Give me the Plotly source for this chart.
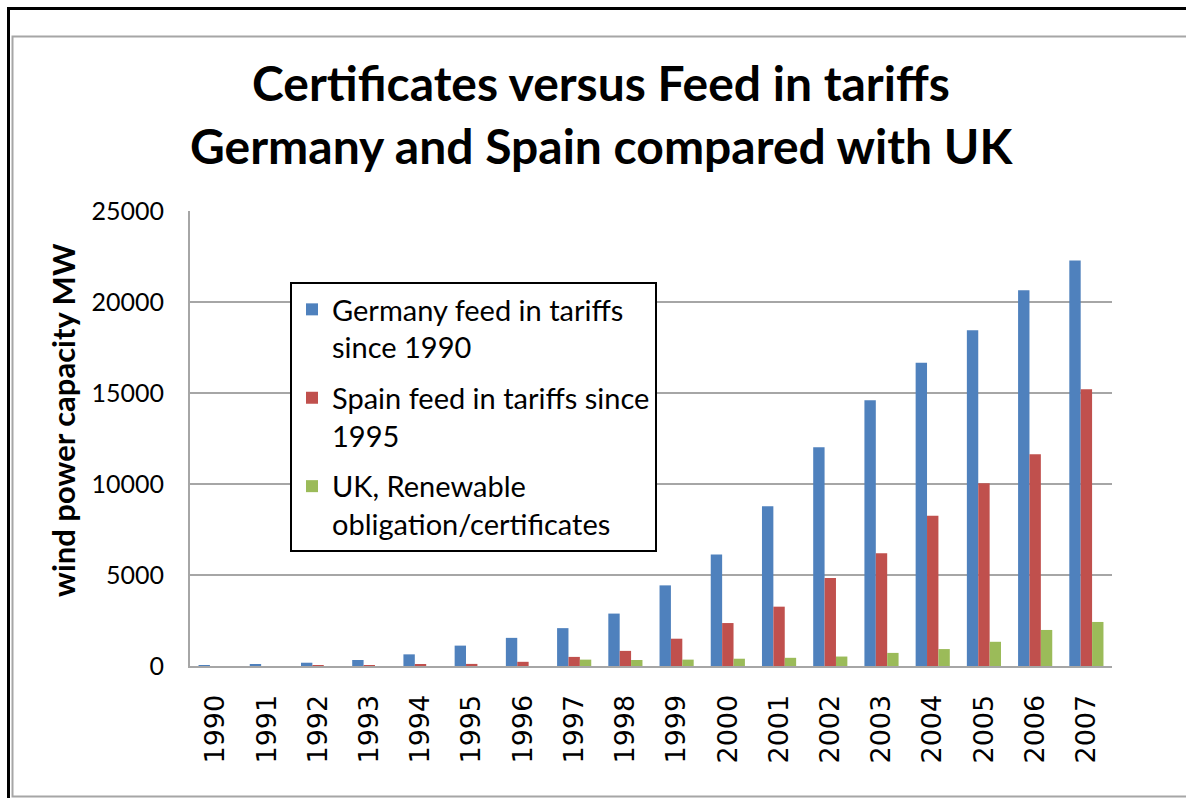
import plotly.graph_objects as go

years = [str(y) for y in range(1990, 2008)]
germany = [55, 106, 180, 330, 640, 1120, 1546, 2080, 2880, 4430, 6130, 8780, 12020, 14600, 16660, 18450, 20650, 22280]
spain = [0, 0, 50, 50, 70, 115, 230, 500, 830, 1500, 2360, 3260, 4830, 6200, 8250, 10040, 11640, 15200]
uk = [0, 0, 0, 0, 0, 0, 0, 350, 330, 350, 400, 450, 520, 720, 930, 1330, 1980, 2420]

names = ["Germany feed in tariffs<br>since 1990",
         "Spain feed in tariffs since<br>1995",
         "UK, Renewable<br>obligation/certificates"]
colors = ["#4F81BD", "#C0504D", "#9BBB59"]

W, H = 1186, 798
L, R, T, B = 190, 1112, 211, 666

def px(x):
    return (x - L) / (R - L)

def py(y):
    return (B - y) / (B - T)

fig = go.Figure()
for i, (name, vals, c) in enumerate(zip(names, [germany, spain, uk], colors)):
    fig.add_trace(go.Bar(x=years, y=vals, name=name, legendgroup=f"g{i}",
                         marker=dict(color=c, line=dict(width=0))))

shapes = [
    dict(type="line", xref="paper", yref="paper", x0=px(7), x1=px(1190), y0=py(8.5), y1=py(8.5),
         line=dict(color="black", width=3)),
    dict(type="line", xref="paper", yref="paper", x0=px(8.5), x1=px(8.5), y0=py(7), y1=py(800),
         line=dict(color="black", width=3)),
    dict(type="rect", xref="paper", yref="paper", x0=px(12.5), x1=px(1195), y0=py(36.5), y1=py(796.5),
         line=dict(color="#a6a6a6", width=2), layer="below"),
]

fig.update_layout(
    width=W, height=H,
    margin=dict(l=L, r=W - R, t=T, b=H - B),
    paper_bgcolor="white", plot_bgcolor="white",
    barmode="group", bargap=0.333, bargroupgap=0,
    showlegend=True,
    legend=dict(x=px(290), y=py(282), xanchor="left", yanchor="top",
                bordercolor="black", borderwidth=2, bgcolor="white",
                font=dict(family="Lato", size=29, color="black"),
                tracegroupgap=10, itemsizing="constant", valign="top"),
    shapes=shapes,
    annotations=[
        dict(text="<b>Certificates versus Feed in tariffs</b>", xref="paper", yref="paper",
             x=px(601), y=py(83), xanchor="center", yanchor="middle", showarrow=False,
             font=dict(family="Lato", size=48, color="black")),
        dict(text="<b>Germany and Spain compared with UK</b>", xref="paper", yref="paper",
             x=px(601), y=py(145), xanchor="center", yanchor="middle", showarrow=False,
             font=dict(family="Lato", size=48, color="black")),
        dict(text="<b>wind power capacity MW</b>", xref="paper", yref="paper",
             x=px(63), y=py(420), xanchor="center", yanchor="middle", showarrow=False,
             textangle=-90, font=dict(family="Lato", size=31, color="black")),
    ],
    font=dict(family="Lato", color="black"),
)

fig.update_xaxes(
    type="category", showline=True, linecolor="#a6a6a6", linewidth=2, showgrid=False,
    ticks="", tickangle=-90, ticklabelstandoff=16,
    tickfont=dict(family="DejaVu Sans", size=27, color="black"),
)
fig.update_yaxes(
    range=[0, 25000], tickvals=[0, 5000, 10000, 15000, 20000, 25000],
    ticktext=["0", "5000", "10000", "15000", "20000", "25000"],
    showline=True, linecolor="#a6a6a6", linewidth=2,
    showgrid=True, gridcolor="#a6a6a6", gridwidth=1.5, zeroline=False,
    ticks="", ticklabelstandoff=19,
    tickfont=dict(family="Lato", size=25, color="black"),
)

fig.write_html("out.html", config={"displayModeBar": False},
               post_script="document.body.style.margin='0px';")
